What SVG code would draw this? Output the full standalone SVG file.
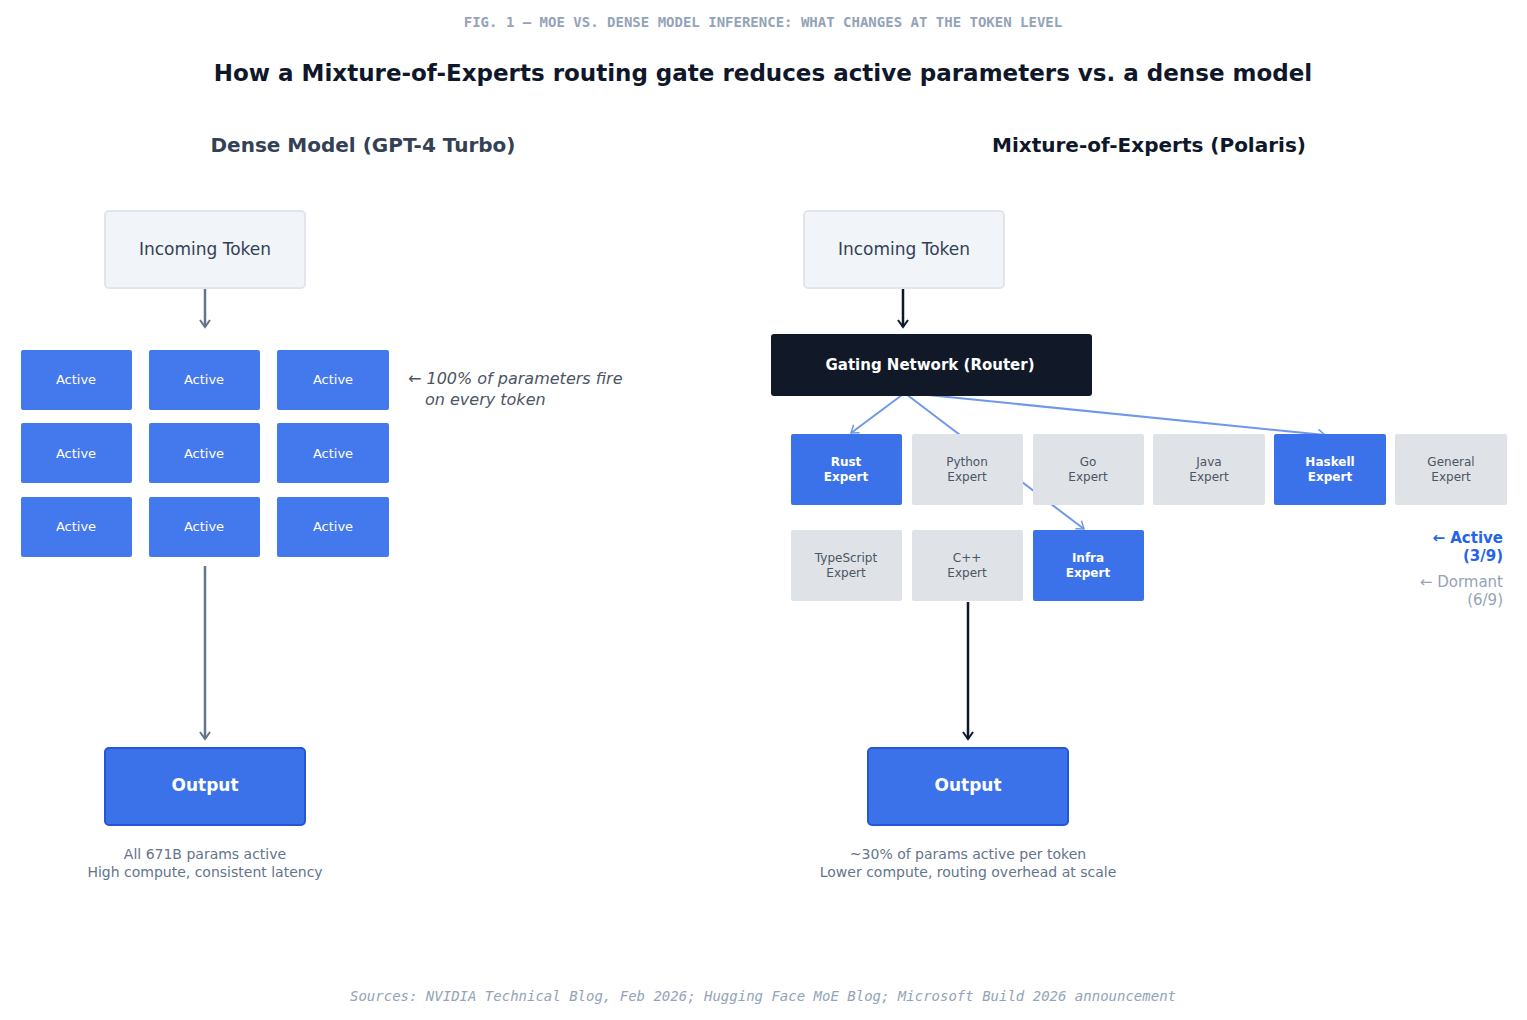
<svg xmlns="http://www.w3.org/2000/svg" width="1527" height="1020" viewBox="0 0 1527 1020">
<style>
text{font-family:"DejaVu Sans","Liberation Sans",sans-serif}
.act{fill:#4479ee;rx:2}
.actT{fill:#fff;font-size:13px;text-anchor:middle}
.dorm{fill:#dfe3e8;rx:2}
.dormT{fill:#4b5563;font-size:12px;text-anchor:middle}
.expA{fill:#3b72ea}
.expAT{fill:#fff;font-size:12px;font-weight:bold;text-anchor:middle}
.tok{fill:#f1f4f8;stroke:#e2e6ec;stroke-width:2}
.tokT{fill:#334155;font-size:17px;text-anchor:middle}
.out{fill:#3b72ea;stroke:#2556d6;stroke-width:2}
.outT{fill:#fff;font-size:17px;font-weight:bold;text-anchor:middle}
.cap{fill:#64748b;font-size:14px;text-anchor:middle}
</style>
<defs>
<marker id="ag" markerWidth="12" markerHeight="12" refX="9" refY="6" orient="auto" markerUnits="userSpaceOnUse"><path d="M2,1 L9,6 L2,11" fill="none" stroke="#64748b" stroke-width="2"/></marker>
<marker id="ak" markerWidth="12" markerHeight="12" refX="9" refY="6" orient="auto" markerUnits="userSpaceOnUse"><path d="M2,1 L9,6 L2,11" fill="none" stroke="#0f172a" stroke-width="2"/></marker>
<marker id="ab" markerWidth="12" markerHeight="12" refX="9" refY="6" orient="auto" markerUnits="userSpaceOnUse"><path d="M2,1 L9,6 L2,11" fill="none" stroke="#6f98ea" stroke-width="1.5"/></marker>
</defs>
<rect width="1527" height="1020" fill="#fff"/>
<text x="763" y="27" text-anchor="middle" style="font-family:'DejaVu Sans Mono','Liberation Mono',monospace" font-size="14" font-weight="bold" fill="#94a3b8">FIG. 1 — MOE VS. DENSE MODEL INFERENCE: WHAT CHANGES AT THE TOKEN LEVEL</text>
<text x="763" y="81" text-anchor="middle" font-size="23" font-weight="bold" fill="#0f172a">How a Mixture-of-Experts routing gate reduces active parameters vs. a dense model</text>
<text x="363" y="152" text-anchor="middle" font-size="20" font-weight="bold" fill="#334155">Dense Model (GPT-4 Turbo)</text>
<text x="1149" y="152" text-anchor="middle" font-size="20" font-weight="bold" fill="#0f172a">Mixture-of-Experts (Polaris)</text>

<g id="connectors">
<line x1="205" y1="287" x2="205" y2="327" stroke="#64748b" stroke-width="2.5" marker-end="url(#ag)"/>
<line x1="205" y1="566" x2="205" y2="739" stroke="#64748b" stroke-width="2.5" marker-end="url(#ag)"/>
<line x1="903" y1="287" x2="903" y2="327" stroke="#0f172a" stroke-width="2.5" marker-end="url(#ak)"/>
<line x1="902" y1="395" x2="851" y2="433" stroke="#6f98ea" stroke-width="2" marker-end="url(#ab)"/>
<line x1="906" y1="394" x2="1084" y2="529" stroke="#6f98ea" stroke-width="2" marker-end="url(#ab)"/>
<line x1="908" y1="393" x2="1325" y2="435" stroke="#6f98ea" stroke-width="2" marker-end="url(#ab)"/>
<line x1="968" y1="602" x2="968" y2="739" stroke="#0f172a" stroke-width="2.5" marker-end="url(#ak)"/>
</g>

<g id="dense-token"><rect class="tok" x="105" y="211" width="200" height="77" rx="4"/><text class="tokT" x="205" y="255">Incoming Token</text></g>
<g id="dense-grid">
<rect class="act" x="21" y="350" width="111" height="60"/><text class="actT" x="76" y="384">Active</text>
<rect class="act" x="149" y="350" width="111" height="60"/><text class="actT" x="204" y="384">Active</text>
<rect class="act" x="277" y="350" width="112" height="60"/><text class="actT" x="333" y="384">Active</text>
<rect class="act" x="21" y="423" width="111" height="60"/><text class="actT" x="76" y="458">Active</text>
<rect class="act" x="149" y="423" width="111" height="60"/><text class="actT" x="204" y="458">Active</text>
<rect class="act" x="277" y="423" width="112" height="60"/><text class="actT" x="333" y="458">Active</text>
<rect class="act" x="21" y="497" width="111" height="60"/><text class="actT" x="76" y="531">Active</text>
<rect class="act" x="149" y="497" width="111" height="60"/><text class="actT" x="204" y="531">Active</text>
<rect class="act" x="277" y="497" width="112" height="60"/><text class="actT" x="333" y="531">Active</text>
</g>
<g id="dense-note" font-size="16" font-style="italic" fill="#4b5563"><text x="408" y="384" fill="#4b5563">← 100% of parameters fire</text><text x="425" y="405" fill="#4b5563">on every token</text></g>
<g id="dense-output"><rect class="out" x="105" y="748" width="200" height="77" rx="4"/><text class="outT" x="205" y="791">Output</text></g>
<g id="dense-caption"><text class="cap" x="205" y="859">All 671B params active</text><text class="cap" x="205" y="877">High compute, consistent latency</text></g>

<g id="moe-token"><rect class="tok" x="804" y="211" width="200" height="77" rx="4"/><text class="tokT" x="904" y="255">Incoming Token</text></g>
<g id="gate"><rect x="771" y="334" width="321" height="62" rx="3" fill="#111827"/><text x="930" y="370" text-anchor="middle" font-size="15" font-weight="bold" fill="#fff">Gating Network (Router)</text></g>
<g id="experts">
<rect class="expA" x="791" y="434" width="111" height="71" rx="2"/><text class="expAT" x="846" y="466">Rust</text><text class="expAT" x="846" y="481">Expert</text>
<rect class="dorm" x="912" y="434" width="111" height="71"/><text class="dormT" x="967" y="466">Python</text><text class="dormT" x="967" y="481">Expert</text>
<rect class="dorm" x="1033" y="434" width="111" height="71"/><text class="dormT" x="1088" y="466">Go</text><text class="dormT" x="1088" y="481">Expert</text>
<rect class="dorm" x="1153" y="434" width="112" height="71"/><text class="dormT" x="1209" y="466">Java</text><text class="dormT" x="1209" y="481">Expert</text>
<rect class="expA" x="1274" y="434" width="112" height="71" rx="2"/><text class="expAT" x="1330" y="466">Haskell</text><text class="expAT" x="1330" y="481">Expert</text>
<rect class="dorm" x="1395" y="434" width="112" height="71"/><text class="dormT" x="1451" y="466">General</text><text class="dormT" x="1451" y="481">Expert</text>
<rect class="dorm" x="791" y="530" width="111" height="71"/><text class="dormT" x="846" y="562">TypeScript</text><text class="dormT" x="846" y="577">Expert</text>
<rect class="dorm" x="912" y="530" width="111" height="71"/><text class="dormT" x="967" y="562">C++</text><text class="dormT" x="967" y="577">Expert</text>
<rect class="expA" x="1033" y="530" width="111" height="71" rx="2"/><text class="expAT" x="1088" y="562">Infra</text><text class="expAT" x="1088" y="577">Expert</text>
</g>
<g id="legend" text-anchor="end">
<text x="1503" y="543" font-size="15" font-weight="bold" fill="#2563eb">← Active</text>
<text x="1503" y="561" font-size="15" font-weight="bold" fill="#2563eb">(3/9)</text>
<text x="1503" y="587" font-size="15" fill="#94a3b8">← Dormant</text>
<text x="1503" y="605" font-size="15" fill="#94a3b8">(6/9)</text>
</g>
<g id="moe-output"><rect class="out" x="868" y="748" width="200" height="77" rx="4"/><text class="outT" x="968" y="791">Output</text></g>
<g id="moe-caption"><text class="cap" x="968" y="859">~30% of params active per token</text><text class="cap" x="968" y="877">Lower compute, routing overhead at scale</text></g>
<text x="763" y="1001" text-anchor="middle" style="font-family:'DejaVu Sans Mono','Liberation Mono',monospace" font-size="14" font-style="italic" fill="#94a3b8">Sources: NVIDIA Technical Blog, Feb 2026; Hugging Face MoE Blog; Microsoft Build 2026 announcement</text>
</svg>
